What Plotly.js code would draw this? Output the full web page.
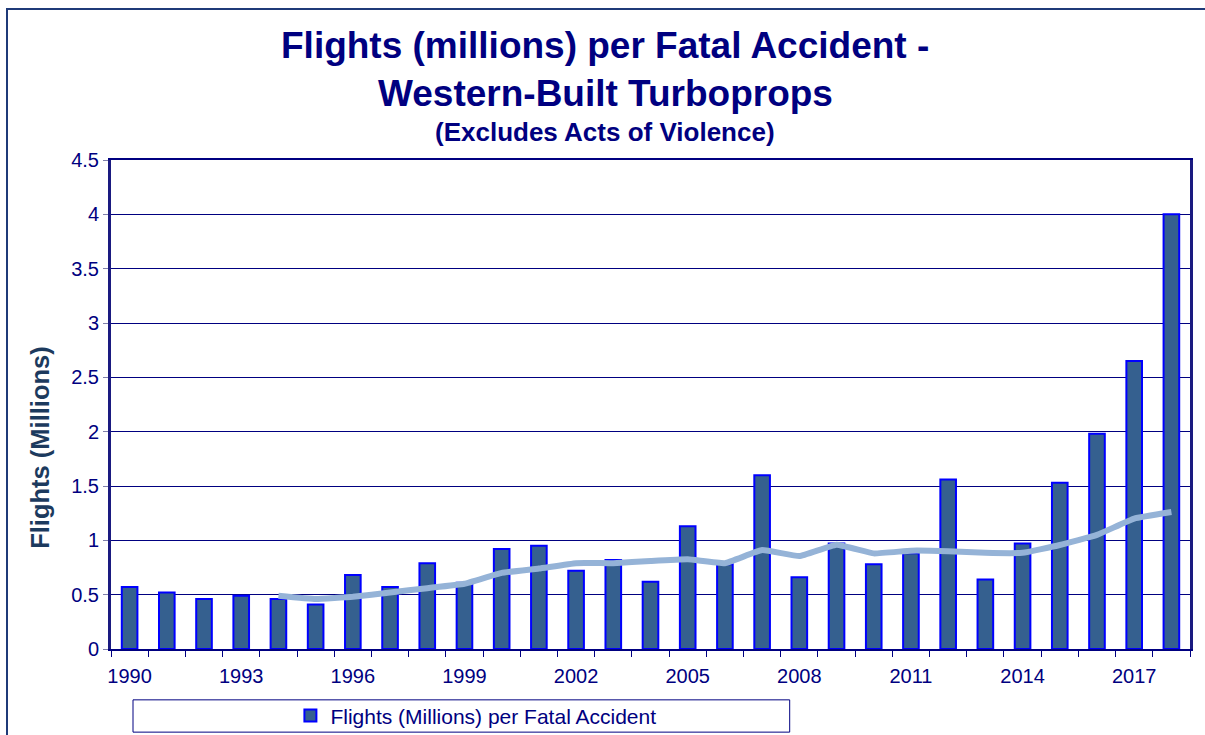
<!DOCTYPE html>
<html>
<head>
<meta charset="utf-8">
<script src="https://cdn.plot.ly/plotly-3.0.1.min.js"></script>
<style>
  html, body { margin: 0; padding: 0; background: #fff; }
  #wrap { position: relative; width: 1205px; height: 735px; overflow: hidden; }
  #chart { width: 1205px; height: 735px; }
  #frame { position: absolute; left: 6px; top: 8px; width: 1300px; height: 800px;
           border: 2px solid #1F3A78; pointer-events: none; }
</style>
</head>
<body>
<div id="wrap">
  <div id="chart"></div>
  <div id="frame"></div>
</div>
<script>
const years = [1990,1991,1992,1993,1994,1995,1996,1997,1998,1999,2000,2001,2002,2003,2004,2005,2006,2007,2008,2009,2010,2011,2012,2013,2014,2015,2016,2017,2018];
const flightsPerFatal = [0.57,0.52,0.46,0.49,0.46,0.41,0.68,0.57,0.79,0.61,0.92,0.95,0.72,0.82,0.62,1.13,0.78,1.60,0.66,0.97,0.78,0.88,1.56,0.64,0.97,1.53,1.98,2.65,4.00];
const avgYears = [1994,1995,1996,1997,1998,1999,2000,2001,2002,2003,2004,2005,2006,2007,2008,2009,2010,2011,2012,2013,2014,2015,2016,2017,2018];
const movingAvg = [0.49,0.46,0.48,0.52,0.56,0.60,0.70,0.74,0.79,0.79,0.81,0.825,0.79,0.91,0.855,0.96,0.88,0.905,0.90,0.885,0.885,0.957,1.05,1.20,1.26];
const xTickYears = [1990,1993,1996,1999,2002,2005,2008,2011,2014,2017];
const yTicks = [0,0.5,1,1.5,2,2.5,3,3.5,4,4.5];
const seriesName = "Flights (Millions) per Fatal Accident";
const titleLine1 = "Flights (millions) per Fatal Accident -";
const titleLine2 = "Western-Built Turboprops";
const subtitle = "(Excludes Acts of Violence)";
const yTitle = "Flights (Millions)";

const navy = "#000080";
const font = "Liberation Sans, Arial, sans-serif";

const traces = [
  {
    type: "bar", x: years, y: flightsPerFatal, name: seriesName,
    width: 0.42,
    marker: { color: "#35608F", line: { color: "#0000FF", width: 2 } },
    hoverinfo: "x+y"
  },
  {
    type: "scatter", mode: "lines", x: avgYears, y: movingAvg,
    showlegend: false,
    line: { color: "#95B3D7", width: 6, shape: "spline", smoothing: 0.3 },
    hoverinfo: "x+y"
  }
];

const layout = {
  width: 1205, height: 735,
  margin: { l: 111, r: 15, t: 160, b: 86, autoexpand: false },
  paper_bgcolor: "#ffffff", plot_bgcolor: "#ffffff",
  font: { family: font, color: navy },
  showlegend: true,
  xaxis: {
    range: [1989.5, 2018.5],
    tickmode: "array", tickvals: xTickYears, ticktext: xTickYears.map(String),
    ticks: "", ticklabelstandoff: 8,
    tickfont: { family: font, size: 20, color: navy },
    showgrid: false, zeroline: false, automargin: false,
    showline: true, linecolor: navy, linewidth: 2, mirror: true,
    minor: { tick0: 1989.5, dtick: 1, ticks: "outside", ticklen: 6, tickcolor: navy, tickwidth: 1, showgrid: false }
  },
  yaxis: {
    range: [0, 4.5],
    tickmode: "array", tickvals: yTicks, ticktext: yTicks.map(String),
    ticks: "outside", ticklen: 5, tickcolor: "#7f7faa",
    tickfont: { family: font, size: 20, color: navy },
    showgrid: true, gridcolor: navy, gridwidth: 1,
    zeroline: false, automargin: false,
    showline: true, linecolor: "#1A1A80", linewidth: 3, mirror: true
  },
  legend: {
    xref: "container", yref: "container",
    x: 0.241, xanchor: "left", y: 0.0259, yanchor: "middle",
    orientation: "h", bgcolor: "rgba(0,0,0,0)", borderwidth: 0,
    font: { family: font, size: 21, color: navy }
  },
  annotations: [
    { text: "<b>" + titleLine1 + "</b>", xref: "paper", yref: "paper", x: 0.458, y: 1.235,
      xanchor: "center", yanchor: "middle", showarrow: false,
      font: { family: font, size: 37, color: navy } },
    { text: "<b>" + titleLine2 + "</b>", xref: "paper", yref: "paper", x: 0.458, y: 1.137,
      xanchor: "center", yanchor: "middle", showarrow: false,
      font: { family: font, size: 37, color: navy } },
    { text: "<b>" + subtitle + "</b>", xref: "paper", yref: "paper", x: 0.458, y: 1.057,
      xanchor: "center", yanchor: "middle", showarrow: false,
      font: { family: font, size: 26, color: navy } },
    { text: "<b>" + yTitle + "</b>", xref: "paper", yref: "paper", x: -0.066, y: 0.413,
      xanchor: "center", yanchor: "middle", showarrow: false, textangle: -90,
      font: { family: font, size: 25.5, color: "#1C3A5E" } }
  ],
  shapes: [
    { type: "rect", xref: "paper", yref: "paper",
      x0: 0.0204, x1: 0.629, y0: -0.170, y1: -0.104,
      line: { color: navy, width: 1 }, fillcolor: "rgba(0,0,0,0)", layer: "below" }
  ],
  bargap: 0.58
};

Plotly.newPlot("chart", traces, layout, { displayModeBar: false, staticPlot: true });
</script>
</body>
</html>
